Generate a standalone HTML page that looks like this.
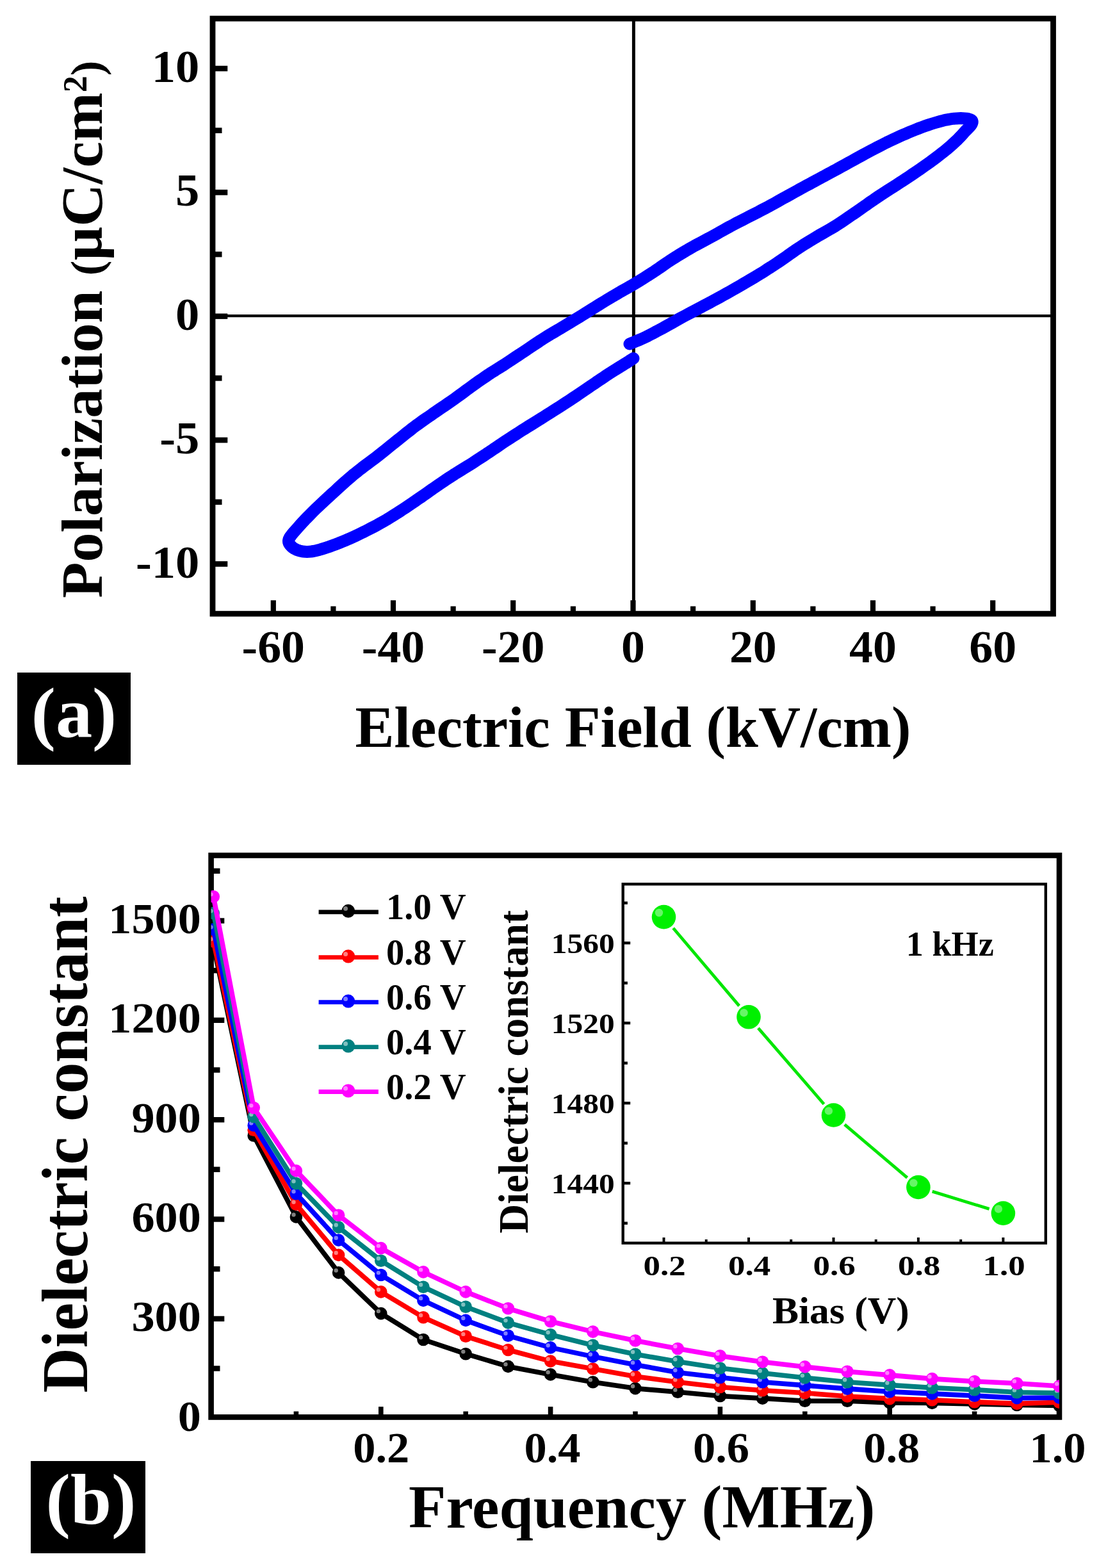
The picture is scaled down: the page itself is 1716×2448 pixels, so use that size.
<!DOCTYPE html>
<html><head><meta charset="utf-8"><title>Figure</title>
<style>
html,body{margin:0;padding:0;background:#fff;}
body{width:1716px;height:2448px;overflow:hidden;}
svg{display:block;}
text{font-family:'Liberation Serif', serif;font-weight:bold;}
</style></head>
<body>
<svg width="1716" height="2448" viewBox="0 0 1716 2448">
<rect width="1716" height="2448" fill="#fff"/>
<line x1="989.4" y1="29.0" x2="989.4" y2="958.2" stroke="#000" stroke-width="5.0" stroke-linecap="butt"/>
<line x1="332.0" y1="493.1" x2="1644.5" y2="493.1" stroke="#000" stroke-width="4.4" stroke-linecap="butt"/>
<path d="M983.0,537.0 L985.5,535.9 L989.0,534.5 L993.1,532.8 L997.7,530.9 L1002.3,528.9 L1006.8,526.9 L1011.1,524.7 L1015.6,522.4 L1020.3,520.0 L1025.0,517.4 L1029.8,514.9 L1034.6,512.3 L1039.4,509.6 L1044.4,506.9 L1049.4,504.1 L1054.4,501.2 L1059.4,498.4 L1064.4,495.7 L1069.4,493.0 L1074.3,490.4 L1079.3,487.8 L1084.3,485.1 L1089.3,482.5 L1094.2,479.9 L1099.2,477.2 L1104.1,474.6 L1109.1,472.0 L1114.0,469.3 L1119.0,466.6 L1124.1,463.8 L1129.2,461.0 L1134.4,458.1 L1139.6,455.2 L1144.8,452.3 L1150.1,449.2 L1155.4,446.2 L1160.8,443.0 L1166.4,439.8 L1171.9,436.5 L1177.5,433.2 L1183.0,429.9 L1188.3,426.7 L1193.5,423.4 L1198.6,420.1 L1203.7,416.9 L1208.7,413.6 L1213.6,410.4 L1218.4,407.1 L1223.1,403.9 L1227.7,400.7 L1232.1,397.5 L1236.6,394.4 L1241.1,391.2 L1245.7,388.1 L1250.3,385.1 L1255.0,382.1 L1259.8,379.1 L1264.6,376.2 L1269.4,373.2 L1274.2,370.3 L1279.1,367.4 L1284.1,364.6 L1289.1,361.8 L1294.1,358.9 L1299.1,356.0 L1304.1,353.0 L1309.1,349.8 L1314.1,346.5 L1319.1,343.1 L1324.1,339.7 L1329.0,336.3 L1333.9,333.0 L1338.8,329.6 L1343.6,326.2 L1348.5,322.8 L1353.3,319.4 L1358.0,316.0 L1362.8,312.8 L1367.4,309.6 L1372.0,306.5 L1376.6,303.5 L1381.2,300.5 L1385.8,297.5 L1390.5,294.5 L1395.3,291.4 L1400.0,288.4 L1404.8,285.3 L1409.6,282.2 L1414.5,279.0 L1419.3,275.8 L1424.2,272.5 L1429.2,269.1 L1434.3,265.7 L1439.2,262.2 L1444.1,258.8 L1448.8,255.5 L1453.4,252.2 L1457.9,248.8 L1462.4,245.5 L1466.6,242.3 L1470.7,239.1 L1474.5,236.1 L1478.1,233.2 L1481.5,230.3 L1484.6,227.6 L1487.6,224.9 L1490.4,222.3 L1493.1,219.8 L1495.7,217.3 L1498.0,214.9 L1500.2,212.6 L1502.3,210.3 L1504.3,208.1 L1506.2,205.9 L1508.3,203.8 L1510.4,201.6 L1512.5,199.5 L1514.4,197.5 L1515.9,195.7 L1517.0,194.0 L1517.7,192.5 L1518.1,191.1 L1518.2,189.9 L1517.9,188.8 L1517.2,187.8 L1516.0,187.0 L1514.3,186.3 L1512.1,185.7 L1509.5,185.2 L1506.6,184.9 L1503.4,184.7 L1500.2,184.6 L1496.9,184.7 L1493.4,184.9 L1489.7,185.2 L1485.8,185.7 L1481.7,186.3 L1477.5,187.1 L1473.2,188.1 L1468.6,189.3 L1463.8,190.6 L1459.0,192.0 L1454.1,193.5 L1449.2,195.1 L1444.3,196.8 L1439.3,198.6 L1434.3,200.5 L1429.3,202.5 L1424.3,204.5 L1419.3,206.6 L1414.4,208.7 L1409.4,210.8 L1404.4,213.0 L1399.4,215.3 L1394.5,217.6 L1389.5,220.0 L1384.5,222.4 L1379.6,224.9 L1374.6,227.4 L1369.6,230.0 L1364.6,232.6 L1359.7,235.2 L1354.6,237.9 L1349.5,240.6 L1344.5,243.4 L1339.4,246.2 L1334.5,248.9 L1329.8,251.5 L1325.3,253.9 L1320.9,256.3 L1316.7,258.7 L1312.6,260.9 L1308.6,263.1 L1304.8,265.2 L1301.1,267.2 L1297.8,269.0 L1294.6,270.7 L1291.4,272.4 L1288.0,274.3 L1284.4,276.2 L1280.6,278.3 L1276.6,280.4 L1272.5,282.6 L1268.2,284.9 L1263.8,287.3 L1259.3,289.7 L1254.6,292.3 L1249.7,294.9 L1244.7,297.7 L1239.6,300.5 L1234.5,303.3 L1229.5,306.1 L1224.5,308.8 L1219.6,311.6 L1214.6,314.4 L1209.6,317.2 L1204.6,319.9 L1199.7,322.6 L1194.7,325.2 L1189.7,327.8 L1184.8,330.4 L1179.8,332.9 L1174.8,335.5 L1169.8,338.0 L1164.8,340.6 L1159.8,343.2 L1154.8,345.7 L1149.8,348.3 L1144.8,351.0 L1139.8,353.6 L1134.7,356.4 L1129.7,359.2 L1124.6,362.0 L1119.5,364.9 L1114.5,367.7 L1109.4,370.5 L1104.4,373.2 L1099.4,375.9 L1094.3,378.6 L1089.3,381.2 L1084.3,383.9 L1079.3,386.8 L1074.3,389.6 L1069.4,392.5 L1064.4,395.5 L1059.4,398.5 L1054.5,401.6 L1049.5,404.8 L1044.5,408.0 L1039.5,411.4 L1034.5,414.9 L1029.5,418.4 L1024.5,421.7 L1019.7,425.0 L1014.9,428.1 L1010.2,431.1 L1005.6,434.0 L1001.0,436.8 L996.5,439.6 L992.0,442.3 L987.7,444.9 L983.5,447.3 L979.3,449.7 L975.2,452.0 L970.9,454.4 L966.6,456.9 L962.2,459.6 L957.6,462.2 L953.1,464.9 L948.4,467.7 L943.8,470.5 L939.0,473.4 L934.2,476.4 L929.2,479.5 L924.2,482.6 L919.2,485.8 L914.2,488.9 L909.2,492.0 L904.2,495.1 L899.2,498.1 L894.2,501.1 L889.3,504.1 L884.3,507.1 L879.3,510.1 L874.4,513.1 L869.4,516.0 L864.4,519.0 L859.4,521.9 L854.5,524.9 L849.5,528.0 L844.5,531.2 L839.6,534.5 L834.6,537.8 L829.6,541.1 L824.6,544.5 L819.7,547.8 L814.7,551.1 L809.6,554.5 L804.6,557.8 L799.6,561.2 L794.7,564.4 L789.8,567.6 L785.1,570.7 L780.4,573.6 L775.7,576.5 L771.2,579.4 L766.6,582.2 L762.2,585.1 L757.9,588.1 L753.7,591.0 L749.5,593.8 L745.3,596.8 L741.1,599.8 L736.8,602.9 L732.4,606.1 L727.8,609.4 L723.3,612.8 L718.6,616.2 L713.9,619.7 L709.2,623.1 L704.3,626.5 L699.4,629.9 L694.4,633.3 L689.4,636.7 L684.3,640.2 L679.3,643.6 L674.4,647.1 L669.4,650.5 L664.4,653.9 L659.4,657.4 L654.5,660.9 L649.5,664.5 L644.5,668.3 L639.6,672.2 L634.6,676.1 L629.6,680.1 L624.6,684.1 L619.7,688.0 L614.6,692.1 L609.5,696.2 L604.4,700.3 L599.4,704.4 L594.5,708.3 L589.8,712.0 L585.3,715.5 L581.0,718.7 L576.7,721.9 L572.7,724.9 L568.7,727.8 L564.9,730.8 L561.3,733.5 L558.1,736.1 L555.0,738.6 L551.8,741.1 L548.5,743.9 L544.9,747.0 L541.0,750.4 L536.9,754.0 L532.6,757.9 L528.2,761.9 L523.7,766.1 L519.0,770.3 L514.2,774.8 L509.0,779.6 L503.7,784.5 L498.5,789.4 L493.4,794.2 L488.7,798.8 L484.3,803.2 L480.1,807.5 L476.0,811.7 L472.2,815.8 L468.6,819.7 L465.4,823.4 L462.2,827.0 L459.2,830.3 L456.5,833.6 L454.1,836.6 L452.2,839.4 L451.0,842.0 L450.5,844.3 L450.6,846.4 L451.3,848.2 L452.3,849.9 L453.6,851.5 L455.0,853.0 L456.6,854.5 L458.5,855.9 L460.6,857.1 L463.0,858.3 L465.4,859.2 L468.0,860.0 L470.6,860.6 L473.4,861.0 L476.3,861.3 L479.4,861.4 L482.6,861.3 L486.0,861.0 L489.5,860.5 L493.2,859.7 L497.0,858.8 L501.0,857.7 L505.2,856.4 L509.5,855.0 L514.1,853.5 L519.0,851.7 L524.0,849.8 L529.1,847.9 L534.3,845.8 L539.3,843.7 L544.3,841.6 L549.3,839.3 L554.2,837.1 L559.2,834.7 L564.2,832.3 L569.2,829.9 L574.1,827.4 L579.1,824.8 L584.1,822.2 L589.1,819.6 L594.0,816.8 L599.0,814.0 L604.0,811.1 L609.0,808.0 L614.0,804.9 L619.0,801.7 L623.9,798.6 L628.8,795.4 L633.7,792.2 L638.6,788.9 L643.4,785.7 L648.2,782.4 L652.9,779.1 L657.5,776.0 L662.1,772.8 L666.5,769.7 L670.9,766.6 L675.2,763.5 L679.6,760.5 L683.9,757.5 L688.3,754.5 L692.6,751.6 L696.9,748.7 L701.3,745.8 L705.7,743.0 L710.2,740.0 L714.9,737.1 L719.7,734.1 L724.5,731.2 L729.4,728.2 L734.2,725.2 L739.0,722.2 L743.6,719.1 L748.3,716.1 L753.0,713.0 L757.6,710.0 L762.1,706.9 L766.6,704.0 L770.9,701.0 L775.2,698.2 L779.3,695.4 L783.5,692.5 L787.7,689.7 L792.0,686.8 L796.5,683.9 L801.0,681.0 L805.6,678.1 L810.2,675.1 L814.9,672.1 L819.7,669.1 L824.5,666.0 L829.5,663.0 L834.5,659.9 L839.5,656.7 L844.5,653.6 L849.5,650.5 L854.5,647.3 L859.4,644.2 L864.4,641.0 L869.4,637.9 L874.4,634.7 L879.3,631.5 L884.3,628.2 L889.4,624.9 L894.5,621.5 L899.5,618.2 L904.4,614.9 L909.2,611.7 L913.8,608.5 L918.4,605.4 L922.9,602.3 L927.3,599.4 L931.4,596.5 L935.3,593.9 L938.9,591.5 L942.2,589.3 L945.3,587.2 L948.3,585.2 L951.1,583.3 L954.0,581.5 L956.7,579.8 L959.3,578.1 L961.8,576.6 L964.2,575.1 L966.5,573.7 L968.8,572.2 L971.1,570.8 L973.3,569.5 L975.5,568.1 L977.6,566.8 L979.5,565.6 L981.3,564.5 L982.9,563.4 L984.5,562.4 L985.9,561.5 L987.2,560.7 L988.2,560.0 L989.0,559.5" fill="none" stroke="#0000FF" stroke-width="19" stroke-linejoin="round" stroke-linecap="round"/>
<rect x="332.0" y="29.0" width="1312.5" height="929.2" fill="none" stroke="#000" stroke-width="8.8"/>
<line x1="332.0" y1="107.0" x2="355.3" y2="107.0" stroke="#000" stroke-width="8.6" stroke-linecap="butt"/>
<line x1="332.0" y1="300.4" x2="355.3" y2="300.4" stroke="#000" stroke-width="8.6" stroke-linecap="butt"/>
<line x1="332.0" y1="493.8" x2="355.3" y2="493.8" stroke="#000" stroke-width="8.6" stroke-linecap="butt"/>
<line x1="332.0" y1="687.1" x2="355.3" y2="687.1" stroke="#000" stroke-width="8.6" stroke-linecap="butt"/>
<line x1="332.0" y1="880.5" x2="355.3" y2="880.5" stroke="#000" stroke-width="8.6" stroke-linecap="butt"/>
<line x1="332.0" y1="203.7" x2="346.5" y2="203.7" stroke="#000" stroke-width="8.6" stroke-linecap="butt"/>
<line x1="332.0" y1="397.1" x2="346.5" y2="397.1" stroke="#000" stroke-width="8.6" stroke-linecap="butt"/>
<line x1="332.0" y1="590.4" x2="346.5" y2="590.4" stroke="#000" stroke-width="8.6" stroke-linecap="butt"/>
<line x1="332.0" y1="783.8" x2="346.5" y2="783.8" stroke="#000" stroke-width="8.6" stroke-linecap="butt"/>
<line x1="426.8" y1="958.2" x2="426.8" y2="937.2" stroke="#000" stroke-width="8.2" stroke-linecap="butt"/>
<line x1="614.0" y1="958.2" x2="614.0" y2="937.2" stroke="#000" stroke-width="8.2" stroke-linecap="butt"/>
<line x1="801.2" y1="958.2" x2="801.2" y2="937.2" stroke="#000" stroke-width="8.2" stroke-linecap="butt"/>
<line x1="988.5" y1="958.2" x2="988.5" y2="937.2" stroke="#000" stroke-width="8.2" stroke-linecap="butt"/>
<line x1="1175.8" y1="958.2" x2="1175.8" y2="937.2" stroke="#000" stroke-width="8.2" stroke-linecap="butt"/>
<line x1="1363.0" y1="958.2" x2="1363.0" y2="937.2" stroke="#000" stroke-width="8.2" stroke-linecap="butt"/>
<line x1="1550.2" y1="958.2" x2="1550.2" y2="937.2" stroke="#000" stroke-width="8.2" stroke-linecap="butt"/>
<line x1="520.4" y1="958.2" x2="520.4" y2="946.5" stroke="#000" stroke-width="8.2" stroke-linecap="butt"/>
<line x1="707.6" y1="958.2" x2="707.6" y2="946.5" stroke="#000" stroke-width="8.2" stroke-linecap="butt"/>
<line x1="894.9" y1="958.2" x2="894.9" y2="946.5" stroke="#000" stroke-width="8.2" stroke-linecap="butt"/>
<line x1="1082.1" y1="958.2" x2="1082.1" y2="946.5" stroke="#000" stroke-width="8.2" stroke-linecap="butt"/>
<line x1="1269.4" y1="958.2" x2="1269.4" y2="946.5" stroke="#000" stroke-width="8.2" stroke-linecap="butt"/>
<line x1="1456.6" y1="958.2" x2="1456.6" y2="946.5" stroke="#000" stroke-width="8.2" stroke-linecap="butt"/>
<text transform="translate(311.3,128.0) scale(1.050,1)" font-size="71" text-anchor="end" fill="#000" >10</text>
<text transform="translate(311.3,321.4) scale(1.050,1)" font-size="71" text-anchor="end" fill="#000" >5</text>
<text transform="translate(311.3,514.8) scale(1.050,1)" font-size="71" text-anchor="end" fill="#000" >0</text>
<text transform="translate(311.3,708.1) scale(1.050,1)" font-size="71" text-anchor="end" fill="#000" >-5</text>
<text transform="translate(311.3,901.5) scale(1.050,1)" font-size="71" text-anchor="end" fill="#000" >-10</text>
<text transform="translate(426.8,1033.5) scale(1.040,1)" font-size="71" text-anchor="middle" fill="#000" >-60</text>
<text transform="translate(614.0,1033.5) scale(1.040,1)" font-size="71" text-anchor="middle" fill="#000" >-40</text>
<text transform="translate(801.2,1033.5) scale(1.040,1)" font-size="71" text-anchor="middle" fill="#000" >-20</text>
<text transform="translate(988.5,1033.5) scale(1.040,1)" font-size="71" text-anchor="middle" fill="#000" >0</text>
<text transform="translate(1175.8,1033.5) scale(1.040,1)" font-size="71" text-anchor="middle" fill="#000" >20</text>
<text transform="translate(1363.0,1033.5) scale(1.040,1)" font-size="71" text-anchor="middle" fill="#000" >40</text>
<text transform="translate(1550.2,1033.5) scale(1.040,1)" font-size="71" text-anchor="middle" fill="#000" >60</text>
<text transform="translate(554.5,1165.8)" font-size="91.4" text-anchor="start" fill="#000" >Electric Field (kV/cm)</text>
<text transform="translate(159.0,933.7) rotate(-90)" font-size="92" text-anchor="start" fill="#000" >Polarization <tspan font-size="70.6">(</tspan>µC/cm<tspan font-size="52" dy="-24">2</tspan><tspan font-size="70.6" dy="24">)</tspan></text>
<rect x="27" y="1050" width="177" height="144" fill="#000"/>
<text transform="translate(115.5,1150.0) scale(1.040,1)" font-size="110" text-anchor="middle" fill="#fff" >(a)</text>
<rect x="329.6" y="1335.5" width="1324.4" height="877.0" fill="none" stroke="#000" stroke-width="8.6"/>
<line x1="329.6" y1="2058.9" x2="350.3" y2="2058.9" stroke="#000" stroke-width="8.4" stroke-linecap="butt"/>
<line x1="329.6" y1="1903.5" x2="350.3" y2="1903.5" stroke="#000" stroke-width="8.4" stroke-linecap="butt"/>
<line x1="329.6" y1="1748.2" x2="350.3" y2="1748.2" stroke="#000" stroke-width="8.4" stroke-linecap="butt"/>
<line x1="329.6" y1="1592.8" x2="350.3" y2="1592.8" stroke="#000" stroke-width="8.4" stroke-linecap="butt"/>
<line x1="329.6" y1="1437.5" x2="350.3" y2="1437.5" stroke="#000" stroke-width="8.4" stroke-linecap="butt"/>
<line x1="329.6" y1="2136.5" x2="343.5" y2="2136.5" stroke="#000" stroke-width="8.4" stroke-linecap="butt"/>
<line x1="329.6" y1="1981.2" x2="343.5" y2="1981.2" stroke="#000" stroke-width="8.4" stroke-linecap="butt"/>
<line x1="329.6" y1="1825.8" x2="343.5" y2="1825.8" stroke="#000" stroke-width="8.4" stroke-linecap="butt"/>
<line x1="329.6" y1="1670.5" x2="343.5" y2="1670.5" stroke="#000" stroke-width="8.4" stroke-linecap="butt"/>
<line x1="329.6" y1="1515.2" x2="343.5" y2="1515.2" stroke="#000" stroke-width="8.4" stroke-linecap="butt"/>
<line x1="329.6" y1="1359.8" x2="343.5" y2="1359.8" stroke="#000" stroke-width="8.4" stroke-linecap="butt"/>
<line x1="594.8" y1="2212.5" x2="594.8" y2="2196.2" stroke="#000" stroke-width="7.6" stroke-linecap="butt"/>
<line x1="859.6" y1="2212.5" x2="859.6" y2="2196.2" stroke="#000" stroke-width="7.6" stroke-linecap="butt"/>
<line x1="1124.4" y1="2212.5" x2="1124.4" y2="2196.2" stroke="#000" stroke-width="7.6" stroke-linecap="butt"/>
<line x1="1389.2" y1="2212.5" x2="1389.2" y2="2196.2" stroke="#000" stroke-width="7.6" stroke-linecap="butt"/>
<line x1="462.4" y1="2212.5" x2="462.4" y2="2203.5" stroke="#000" stroke-width="7.6" stroke-linecap="butt"/>
<line x1="727.2" y1="2212.5" x2="727.2" y2="2203.5" stroke="#000" stroke-width="7.6" stroke-linecap="butt"/>
<line x1="992.0" y1="2212.5" x2="992.0" y2="2203.5" stroke="#000" stroke-width="7.6" stroke-linecap="butt"/>
<line x1="1256.8" y1="2212.5" x2="1256.8" y2="2203.5" stroke="#000" stroke-width="7.6" stroke-linecap="butt"/>
<line x1="1521.6" y1="2212.5" x2="1521.6" y2="2203.5" stroke="#000" stroke-width="7.6" stroke-linecap="butt"/>
<clipPath id="cb"><rect x="329.6" y="1335.5" width="1324.4" height="877.0"/></clipPath>
<g clip-path="url(#cb)">
<path d="M333.3,1476.3 L396.2,1773.0 L462.4,1899.9 L528.6,1986.9 L594.8,2050.6 L661.0,2091.5 L727.2,2113.7 L793.4,2133.4 L859.6,2145.9 L925.8,2157.8 L992.0,2167.6 L1058.2,2173.3 L1124.4,2179.5 L1190.6,2183.1 L1256.8,2187.3 L1323.0,2187.3 L1389.2,2189.9 L1455.4,2190.4 L1521.6,2191.9 L1587.8,2193.5 L1654.0,2194.5" fill="none" stroke="#000000" stroke-width="7.6" stroke-linejoin="round"/>
<circle cx="333.3" cy="1476.3" r="9.8" fill="#000000"/>
<circle cx="329.4" cy="1472.9" r="3.2" fill="#fff" fill-opacity="0.5"/>
<circle cx="396.2" cy="1773.0" r="9.8" fill="#000000"/>
<circle cx="392.3" cy="1769.6" r="3.2" fill="#fff" fill-opacity="0.5"/>
<circle cx="462.4" cy="1899.9" r="9.8" fill="#000000"/>
<circle cx="458.5" cy="1896.5" r="3.2" fill="#fff" fill-opacity="0.5"/>
<circle cx="528.6" cy="1986.9" r="9.8" fill="#000000"/>
<circle cx="524.7" cy="1983.5" r="3.2" fill="#fff" fill-opacity="0.5"/>
<circle cx="594.8" cy="2050.6" r="9.8" fill="#000000"/>
<circle cx="590.9" cy="2047.1" r="3.2" fill="#fff" fill-opacity="0.5"/>
<circle cx="661.0" cy="2091.5" r="9.8" fill="#000000"/>
<circle cx="657.1" cy="2088.1" r="3.2" fill="#fff" fill-opacity="0.5"/>
<circle cx="727.2" cy="2113.7" r="9.8" fill="#000000"/>
<circle cx="723.3" cy="2110.3" r="3.2" fill="#fff" fill-opacity="0.5"/>
<circle cx="793.4" cy="2133.4" r="9.8" fill="#000000"/>
<circle cx="789.5" cy="2130.0" r="3.2" fill="#fff" fill-opacity="0.5"/>
<circle cx="859.6" cy="2145.9" r="9.8" fill="#000000"/>
<circle cx="855.7" cy="2142.4" r="3.2" fill="#fff" fill-opacity="0.5"/>
<circle cx="925.8" cy="2157.8" r="9.8" fill="#000000"/>
<circle cx="921.9" cy="2154.3" r="3.2" fill="#fff" fill-opacity="0.5"/>
<circle cx="992.0" cy="2167.6" r="9.8" fill="#000000"/>
<circle cx="988.1" cy="2164.2" r="3.2" fill="#fff" fill-opacity="0.5"/>
<circle cx="1058.2" cy="2173.3" r="9.8" fill="#000000"/>
<circle cx="1054.3" cy="2169.9" r="3.2" fill="#fff" fill-opacity="0.5"/>
<circle cx="1124.4" cy="2179.5" r="9.8" fill="#000000"/>
<circle cx="1120.5" cy="2176.1" r="3.2" fill="#fff" fill-opacity="0.5"/>
<circle cx="1190.6" cy="2183.1" r="9.8" fill="#000000"/>
<circle cx="1186.7" cy="2179.7" r="3.2" fill="#fff" fill-opacity="0.5"/>
<circle cx="1256.8" cy="2187.3" r="9.8" fill="#000000"/>
<circle cx="1252.9" cy="2183.8" r="3.2" fill="#fff" fill-opacity="0.5"/>
<circle cx="1323.0" cy="2187.3" r="9.8" fill="#000000"/>
<circle cx="1319.1" cy="2183.8" r="3.2" fill="#fff" fill-opacity="0.5"/>
<circle cx="1389.2" cy="2189.9" r="9.8" fill="#000000"/>
<circle cx="1385.3" cy="2186.4" r="3.2" fill="#fff" fill-opacity="0.5"/>
<circle cx="1455.4" cy="2190.4" r="9.8" fill="#000000"/>
<circle cx="1451.5" cy="2187.0" r="3.2" fill="#fff" fill-opacity="0.5"/>
<circle cx="1521.6" cy="2191.9" r="9.8" fill="#000000"/>
<circle cx="1517.7" cy="2188.5" r="3.2" fill="#fff" fill-opacity="0.5"/>
<circle cx="1587.8" cy="2193.5" r="9.8" fill="#000000"/>
<circle cx="1583.9" cy="2190.1" r="3.2" fill="#fff" fill-opacity="0.5"/>
<circle cx="1654.0" cy="2194.5" r="9.8" fill="#000000"/>
<circle cx="1650.1" cy="2191.1" r="3.2" fill="#fff" fill-opacity="0.5"/>
<path d="M333.3,1469.6 L396.2,1764.2 L462.4,1880.2 L528.6,1959.4 L594.8,2016.9 L661.0,2056.8 L727.2,2086.3 L793.4,2107.5 L859.6,2125.1 L925.8,2137.0 L992.0,2149.0 L1058.2,2157.8 L1124.4,2165.5 L1190.6,2170.7 L1256.8,2174.8 L1323.0,2180.0 L1389.2,2183.6 L1455.4,2185.7 L1521.6,2188.8 L1587.8,2191.4 L1654.0,2189.3" fill="none" stroke="#FF0000" stroke-width="7.6" stroke-linejoin="round"/>
<circle cx="333.3" cy="1469.6" r="9.8" fill="#FF0000"/>
<circle cx="329.4" cy="1466.2" r="3.2" fill="#fff" fill-opacity="0.5"/>
<circle cx="396.2" cy="1764.2" r="9.8" fill="#FF0000"/>
<circle cx="392.3" cy="1760.8" r="3.2" fill="#fff" fill-opacity="0.5"/>
<circle cx="462.4" cy="1880.2" r="9.8" fill="#FF0000"/>
<circle cx="458.5" cy="1876.8" r="3.2" fill="#fff" fill-opacity="0.5"/>
<circle cx="528.6" cy="1959.4" r="9.8" fill="#FF0000"/>
<circle cx="524.7" cy="1956.0" r="3.2" fill="#fff" fill-opacity="0.5"/>
<circle cx="594.8" cy="2016.9" r="9.8" fill="#FF0000"/>
<circle cx="590.9" cy="2013.5" r="3.2" fill="#fff" fill-opacity="0.5"/>
<circle cx="661.0" cy="2056.8" r="9.8" fill="#FF0000"/>
<circle cx="657.1" cy="2053.4" r="3.2" fill="#fff" fill-opacity="0.5"/>
<circle cx="727.2" cy="2086.3" r="9.8" fill="#FF0000"/>
<circle cx="723.3" cy="2082.9" r="3.2" fill="#fff" fill-opacity="0.5"/>
<circle cx="793.4" cy="2107.5" r="9.8" fill="#FF0000"/>
<circle cx="789.5" cy="2104.1" r="3.2" fill="#fff" fill-opacity="0.5"/>
<circle cx="859.6" cy="2125.1" r="9.8" fill="#FF0000"/>
<circle cx="855.7" cy="2121.7" r="3.2" fill="#fff" fill-opacity="0.5"/>
<circle cx="925.8" cy="2137.0" r="9.8" fill="#FF0000"/>
<circle cx="921.9" cy="2133.6" r="3.2" fill="#fff" fill-opacity="0.5"/>
<circle cx="992.0" cy="2149.0" r="9.8" fill="#FF0000"/>
<circle cx="988.1" cy="2145.5" r="3.2" fill="#fff" fill-opacity="0.5"/>
<circle cx="1058.2" cy="2157.8" r="9.8" fill="#FF0000"/>
<circle cx="1054.3" cy="2154.3" r="3.2" fill="#fff" fill-opacity="0.5"/>
<circle cx="1124.4" cy="2165.5" r="9.8" fill="#FF0000"/>
<circle cx="1120.5" cy="2162.1" r="3.2" fill="#fff" fill-opacity="0.5"/>
<circle cx="1190.6" cy="2170.7" r="9.8" fill="#FF0000"/>
<circle cx="1186.7" cy="2167.3" r="3.2" fill="#fff" fill-opacity="0.5"/>
<circle cx="1256.8" cy="2174.8" r="9.8" fill="#FF0000"/>
<circle cx="1252.9" cy="2171.4" r="3.2" fill="#fff" fill-opacity="0.5"/>
<circle cx="1323.0" cy="2180.0" r="9.8" fill="#FF0000"/>
<circle cx="1319.1" cy="2176.6" r="3.2" fill="#fff" fill-opacity="0.5"/>
<circle cx="1389.2" cy="2183.6" r="9.8" fill="#FF0000"/>
<circle cx="1385.3" cy="2180.2" r="3.2" fill="#fff" fill-opacity="0.5"/>
<circle cx="1455.4" cy="2185.7" r="9.8" fill="#FF0000"/>
<circle cx="1451.5" cy="2182.3" r="3.2" fill="#fff" fill-opacity="0.5"/>
<circle cx="1521.6" cy="2188.8" r="9.8" fill="#FF0000"/>
<circle cx="1517.7" cy="2185.4" r="3.2" fill="#fff" fill-opacity="0.5"/>
<circle cx="1587.8" cy="2191.4" r="9.8" fill="#FF0000"/>
<circle cx="1583.9" cy="2188.0" r="3.2" fill="#fff" fill-opacity="0.5"/>
<circle cx="1654.0" cy="2189.3" r="9.8" fill="#FF0000"/>
<circle cx="1650.1" cy="2185.9" r="3.2" fill="#fff" fill-opacity="0.5"/>
<path d="M333.3,1451.0 L396.2,1757.0 L462.4,1863.6 L528.6,1936.1 L594.8,1990.5 L661.0,2030.4 L727.2,2061.4 L793.4,2085.3 L859.6,2103.9 L925.8,2117.9 L992.0,2130.8 L1058.2,2142.7 L1124.4,2150.5 L1190.6,2157.8 L1256.8,2162.9 L1323.0,2168.1 L1389.2,2172.8 L1455.4,2175.9 L1521.6,2179.0 L1587.8,2182.6 L1654.0,2182.1" fill="none" stroke="#0000FF" stroke-width="7.6" stroke-linejoin="round"/>
<circle cx="333.3" cy="1451.0" r="9.8" fill="#0000FF"/>
<circle cx="329.4" cy="1447.5" r="3.2" fill="#fff" fill-opacity="0.5"/>
<circle cx="396.2" cy="1757.0" r="9.8" fill="#0000FF"/>
<circle cx="392.3" cy="1753.6" r="3.2" fill="#fff" fill-opacity="0.5"/>
<circle cx="462.4" cy="1863.6" r="9.8" fill="#0000FF"/>
<circle cx="458.5" cy="1860.2" r="3.2" fill="#fff" fill-opacity="0.5"/>
<circle cx="528.6" cy="1936.1" r="9.8" fill="#0000FF"/>
<circle cx="524.7" cy="1932.7" r="3.2" fill="#fff" fill-opacity="0.5"/>
<circle cx="594.8" cy="1990.5" r="9.8" fill="#0000FF"/>
<circle cx="590.9" cy="1987.1" r="3.2" fill="#fff" fill-opacity="0.5"/>
<circle cx="661.0" cy="2030.4" r="9.8" fill="#0000FF"/>
<circle cx="657.1" cy="2027.0" r="3.2" fill="#fff" fill-opacity="0.5"/>
<circle cx="727.2" cy="2061.4" r="9.8" fill="#0000FF"/>
<circle cx="723.3" cy="2058.0" r="3.2" fill="#fff" fill-opacity="0.5"/>
<circle cx="793.4" cy="2085.3" r="9.8" fill="#0000FF"/>
<circle cx="789.5" cy="2081.8" r="3.2" fill="#fff" fill-opacity="0.5"/>
<circle cx="859.6" cy="2103.9" r="9.8" fill="#0000FF"/>
<circle cx="855.7" cy="2100.5" r="3.2" fill="#fff" fill-opacity="0.5"/>
<circle cx="925.8" cy="2117.9" r="9.8" fill="#0000FF"/>
<circle cx="921.9" cy="2114.5" r="3.2" fill="#fff" fill-opacity="0.5"/>
<circle cx="992.0" cy="2130.8" r="9.8" fill="#0000FF"/>
<circle cx="988.1" cy="2127.4" r="3.2" fill="#fff" fill-opacity="0.5"/>
<circle cx="1058.2" cy="2142.7" r="9.8" fill="#0000FF"/>
<circle cx="1054.3" cy="2139.3" r="3.2" fill="#fff" fill-opacity="0.5"/>
<circle cx="1124.4" cy="2150.5" r="9.8" fill="#0000FF"/>
<circle cx="1120.5" cy="2147.1" r="3.2" fill="#fff" fill-opacity="0.5"/>
<circle cx="1190.6" cy="2157.8" r="9.8" fill="#0000FF"/>
<circle cx="1186.7" cy="2154.3" r="3.2" fill="#fff" fill-opacity="0.5"/>
<circle cx="1256.8" cy="2162.9" r="9.8" fill="#0000FF"/>
<circle cx="1252.9" cy="2159.5" r="3.2" fill="#fff" fill-opacity="0.5"/>
<circle cx="1323.0" cy="2168.1" r="9.8" fill="#0000FF"/>
<circle cx="1319.1" cy="2164.7" r="3.2" fill="#fff" fill-opacity="0.5"/>
<circle cx="1389.2" cy="2172.8" r="9.8" fill="#0000FF"/>
<circle cx="1385.3" cy="2169.3" r="3.2" fill="#fff" fill-opacity="0.5"/>
<circle cx="1455.4" cy="2175.9" r="9.8" fill="#0000FF"/>
<circle cx="1451.5" cy="2172.5" r="3.2" fill="#fff" fill-opacity="0.5"/>
<circle cx="1521.6" cy="2179.0" r="9.8" fill="#0000FF"/>
<circle cx="1517.7" cy="2175.6" r="3.2" fill="#fff" fill-opacity="0.5"/>
<circle cx="1587.8" cy="2182.6" r="9.8" fill="#0000FF"/>
<circle cx="1583.9" cy="2179.2" r="3.2" fill="#fff" fill-opacity="0.5"/>
<circle cx="1654.0" cy="2182.1" r="9.8" fill="#0000FF"/>
<circle cx="1650.1" cy="2178.7" r="3.2" fill="#fff" fill-opacity="0.5"/>
<path d="M333.3,1425.6 L396.2,1743.5 L462.4,1847.6 L528.6,1915.9 L594.8,1968.2 L661.0,2009.2 L727.2,2040.2 L793.4,2065.1 L859.6,2083.7 L925.8,2100.3 L992.0,2114.3 L1058.2,2125.7 L1124.4,2136.0 L1190.6,2143.8 L1256.8,2151.0 L1323.0,2157.8 L1389.2,2162.4 L1455.4,2166.6 L1521.6,2169.7 L1587.8,2173.8 L1654.0,2174.8" fill="none" stroke="#008080" stroke-width="7.6" stroke-linejoin="round"/>
<circle cx="333.3" cy="1425.6" r="9.8" fill="#008080"/>
<circle cx="329.4" cy="1422.2" r="3.2" fill="#fff" fill-opacity="0.5"/>
<circle cx="396.2" cy="1743.5" r="9.8" fill="#008080"/>
<circle cx="392.3" cy="1740.1" r="3.2" fill="#fff" fill-opacity="0.5"/>
<circle cx="462.4" cy="1847.6" r="9.8" fill="#008080"/>
<circle cx="458.5" cy="1844.2" r="3.2" fill="#fff" fill-opacity="0.5"/>
<circle cx="528.6" cy="1915.9" r="9.8" fill="#008080"/>
<circle cx="524.7" cy="1912.5" r="3.2" fill="#fff" fill-opacity="0.5"/>
<circle cx="594.8" cy="1968.2" r="9.8" fill="#008080"/>
<circle cx="590.9" cy="1964.8" r="3.2" fill="#fff" fill-opacity="0.5"/>
<circle cx="661.0" cy="2009.2" r="9.8" fill="#008080"/>
<circle cx="657.1" cy="2005.7" r="3.2" fill="#fff" fill-opacity="0.5"/>
<circle cx="727.2" cy="2040.2" r="9.8" fill="#008080"/>
<circle cx="723.3" cy="2036.8" r="3.2" fill="#fff" fill-opacity="0.5"/>
<circle cx="793.4" cy="2065.1" r="9.8" fill="#008080"/>
<circle cx="789.5" cy="2061.6" r="3.2" fill="#fff" fill-opacity="0.5"/>
<circle cx="859.6" cy="2083.7" r="9.8" fill="#008080"/>
<circle cx="855.7" cy="2080.3" r="3.2" fill="#fff" fill-opacity="0.5"/>
<circle cx="925.8" cy="2100.3" r="9.8" fill="#008080"/>
<circle cx="921.9" cy="2096.9" r="3.2" fill="#fff" fill-opacity="0.5"/>
<circle cx="992.0" cy="2114.3" r="9.8" fill="#008080"/>
<circle cx="988.1" cy="2110.8" r="3.2" fill="#fff" fill-opacity="0.5"/>
<circle cx="1058.2" cy="2125.7" r="9.8" fill="#008080"/>
<circle cx="1054.3" cy="2122.2" r="3.2" fill="#fff" fill-opacity="0.5"/>
<circle cx="1124.4" cy="2136.0" r="9.8" fill="#008080"/>
<circle cx="1120.5" cy="2132.6" r="3.2" fill="#fff" fill-opacity="0.5"/>
<circle cx="1190.6" cy="2143.8" r="9.8" fill="#008080"/>
<circle cx="1186.7" cy="2140.3" r="3.2" fill="#fff" fill-opacity="0.5"/>
<circle cx="1256.8" cy="2151.0" r="9.8" fill="#008080"/>
<circle cx="1252.9" cy="2147.6" r="3.2" fill="#fff" fill-opacity="0.5"/>
<circle cx="1323.0" cy="2157.8" r="9.8" fill="#008080"/>
<circle cx="1319.1" cy="2154.3" r="3.2" fill="#fff" fill-opacity="0.5"/>
<circle cx="1389.2" cy="2162.4" r="9.8" fill="#008080"/>
<circle cx="1385.3" cy="2159.0" r="3.2" fill="#fff" fill-opacity="0.5"/>
<circle cx="1455.4" cy="2166.6" r="9.8" fill="#008080"/>
<circle cx="1451.5" cy="2163.1" r="3.2" fill="#fff" fill-opacity="0.5"/>
<circle cx="1521.6" cy="2169.7" r="9.8" fill="#008080"/>
<circle cx="1517.7" cy="2166.2" r="3.2" fill="#fff" fill-opacity="0.5"/>
<circle cx="1587.8" cy="2173.8" r="9.8" fill="#008080"/>
<circle cx="1583.9" cy="2170.4" r="3.2" fill="#fff" fill-opacity="0.5"/>
<circle cx="1654.0" cy="2174.8" r="9.8" fill="#008080"/>
<circle cx="1650.1" cy="2171.4" r="3.2" fill="#fff" fill-opacity="0.5"/>
<path d="M333.3,1399.7 L396.2,1729.5 L462.4,1827.9 L528.6,1897.3 L594.8,1948.6 L661.0,1985.9 L727.2,2016.9 L793.4,2042.8 L859.6,2063.0 L925.8,2079.1 L992.0,2093.0 L1058.2,2105.5 L1124.4,2116.9 L1190.6,2126.2 L1256.8,2133.9 L1323.0,2141.2 L1389.2,2146.9 L1455.4,2152.6 L1521.6,2156.7 L1587.8,2159.8 L1654.0,2164.0" fill="none" stroke="#FF00FF" stroke-width="7.6" stroke-linejoin="round"/>
<circle cx="333.3" cy="1399.7" r="9.8" fill="#FF00FF"/>
<circle cx="329.4" cy="1396.3" r="3.2" fill="#fff" fill-opacity="0.5"/>
<circle cx="396.2" cy="1729.5" r="9.8" fill="#FF00FF"/>
<circle cx="392.3" cy="1726.1" r="3.2" fill="#fff" fill-opacity="0.5"/>
<circle cx="462.4" cy="1827.9" r="9.8" fill="#FF00FF"/>
<circle cx="458.5" cy="1824.5" r="3.2" fill="#fff" fill-opacity="0.5"/>
<circle cx="528.6" cy="1897.3" r="9.8" fill="#FF00FF"/>
<circle cx="524.7" cy="1893.9" r="3.2" fill="#fff" fill-opacity="0.5"/>
<circle cx="594.8" cy="1948.6" r="9.8" fill="#FF00FF"/>
<circle cx="590.9" cy="1945.1" r="3.2" fill="#fff" fill-opacity="0.5"/>
<circle cx="661.0" cy="1985.9" r="9.8" fill="#FF00FF"/>
<circle cx="657.1" cy="1982.4" r="3.2" fill="#fff" fill-opacity="0.5"/>
<circle cx="727.2" cy="2016.9" r="9.8" fill="#FF00FF"/>
<circle cx="723.3" cy="2013.5" r="3.2" fill="#fff" fill-opacity="0.5"/>
<circle cx="793.4" cy="2042.8" r="9.8" fill="#FF00FF"/>
<circle cx="789.5" cy="2039.4" r="3.2" fill="#fff" fill-opacity="0.5"/>
<circle cx="859.6" cy="2063.0" r="9.8" fill="#FF00FF"/>
<circle cx="855.7" cy="2059.6" r="3.2" fill="#fff" fill-opacity="0.5"/>
<circle cx="925.8" cy="2079.1" r="9.8" fill="#FF00FF"/>
<circle cx="921.9" cy="2075.6" r="3.2" fill="#fff" fill-opacity="0.5"/>
<circle cx="992.0" cy="2093.0" r="9.8" fill="#FF00FF"/>
<circle cx="988.1" cy="2089.6" r="3.2" fill="#fff" fill-opacity="0.5"/>
<circle cx="1058.2" cy="2105.5" r="9.8" fill="#FF00FF"/>
<circle cx="1054.3" cy="2102.0" r="3.2" fill="#fff" fill-opacity="0.5"/>
<circle cx="1124.4" cy="2116.9" r="9.8" fill="#FF00FF"/>
<circle cx="1120.5" cy="2113.4" r="3.2" fill="#fff" fill-opacity="0.5"/>
<circle cx="1190.6" cy="2126.2" r="9.8" fill="#FF00FF"/>
<circle cx="1186.7" cy="2122.7" r="3.2" fill="#fff" fill-opacity="0.5"/>
<circle cx="1256.8" cy="2133.9" r="9.8" fill="#FF00FF"/>
<circle cx="1252.9" cy="2130.5" r="3.2" fill="#fff" fill-opacity="0.5"/>
<circle cx="1323.0" cy="2141.2" r="9.8" fill="#FF00FF"/>
<circle cx="1319.1" cy="2137.8" r="3.2" fill="#fff" fill-opacity="0.5"/>
<circle cx="1389.2" cy="2146.9" r="9.8" fill="#FF00FF"/>
<circle cx="1385.3" cy="2143.5" r="3.2" fill="#fff" fill-opacity="0.5"/>
<circle cx="1455.4" cy="2152.6" r="9.8" fill="#FF00FF"/>
<circle cx="1451.5" cy="2149.2" r="3.2" fill="#fff" fill-opacity="0.5"/>
<circle cx="1521.6" cy="2156.7" r="9.8" fill="#FF00FF"/>
<circle cx="1517.7" cy="2153.3" r="3.2" fill="#fff" fill-opacity="0.5"/>
<circle cx="1587.8" cy="2159.8" r="9.8" fill="#FF00FF"/>
<circle cx="1583.9" cy="2156.4" r="3.2" fill="#fff" fill-opacity="0.5"/>
<circle cx="1654.0" cy="2164.0" r="9.8" fill="#FF00FF"/>
<circle cx="1650.1" cy="2160.5" r="3.2" fill="#fff" fill-opacity="0.5"/>
</g>
<text transform="translate(313.8,2233.7) scale(1.055,1)" font-size="68.5" text-anchor="end" fill="#000" >0</text>
<text transform="translate(313.8,2078.4) scale(1.055,1)" font-size="68.5" text-anchor="end" fill="#000" >300</text>
<text transform="translate(313.8,1923.0) scale(1.055,1)" font-size="68.5" text-anchor="end" fill="#000" >600</text>
<text transform="translate(313.8,1767.7) scale(1.055,1)" font-size="68.5" text-anchor="end" fill="#000" >900</text>
<text transform="translate(313.8,1612.3) scale(1.055,1)" font-size="68.5" text-anchor="end" fill="#000" >1200</text>
<text transform="translate(313.8,1457.0) scale(1.055,1)" font-size="68.5" text-anchor="end" fill="#000" >1500</text>
<text transform="translate(595.2,2282.5) scale(1.028,1)" font-size="68.5" text-anchor="middle" fill="#000" >0.2</text>
<text transform="translate(862.5,2282.5) scale(1.028,1)" font-size="68.5" text-anchor="middle" fill="#000" >0.4</text>
<text transform="translate(1126.0,2282.5) scale(1.028,1)" font-size="68.5" text-anchor="middle" fill="#000" >0.6</text>
<text transform="translate(1392.3,2282.5) scale(1.028,1)" font-size="68.5" text-anchor="middle" fill="#000" >0.8</text>
<text transform="translate(1651.5,2282.5) scale(1.028,1)" font-size="68.5" text-anchor="middle" fill="#000" >1.0</text>
<text transform="translate(638.0,2384.7)" font-size="95.6" text-anchor="start" fill="#000" >Frequency (MHz)</text>
<text transform="translate(135.5,2174.5) rotate(-90) scale(0.963,1)" font-size="101" text-anchor="start" fill="#000" >Dielectric constant</text>
<rect x="48" y="2281" width="179" height="144" fill="#000"/>
<text transform="translate(142.0,2378.5) scale(1.030,1)" font-size="112" text-anchor="middle" fill="#fff" >(b)</text>
<line x1="497.6" y1="1423.8" x2="590.9" y2="1423.8" stroke="#000000" stroke-width="6.8" stroke-linecap="butt"/>
<circle cx="543.8" cy="1422.3" r="10.5" fill="#000000"/>
<circle cx="539.6" cy="1418.6" r="3.5" fill="#fff" fill-opacity="0.5"/>
<text transform="translate(603.0,1435.3)" font-size="56.6" text-anchor="start" fill="#000" >1.0 V</text>
<line x1="497.6" y1="1494.6" x2="590.9" y2="1494.6" stroke="#FF0000" stroke-width="6.8" stroke-linecap="butt"/>
<circle cx="543.8" cy="1493.1" r="10.5" fill="#FF0000"/>
<circle cx="539.6" cy="1489.4" r="3.5" fill="#fff" fill-opacity="0.5"/>
<text transform="translate(603.0,1506.1)" font-size="56.6" text-anchor="start" fill="#000" >0.8 V</text>
<line x1="497.6" y1="1564.6" x2="590.9" y2="1564.6" stroke="#0000FF" stroke-width="6.8" stroke-linecap="butt"/>
<circle cx="543.8" cy="1563.1" r="10.5" fill="#0000FF"/>
<circle cx="539.6" cy="1559.4" r="3.5" fill="#fff" fill-opacity="0.5"/>
<text transform="translate(603.0,1576.1)" font-size="56.6" text-anchor="start" fill="#000" >0.6 V</text>
<line x1="497.6" y1="1634.6" x2="590.9" y2="1634.6" stroke="#008080" stroke-width="6.8" stroke-linecap="butt"/>
<circle cx="543.8" cy="1633.1" r="10.5" fill="#008080"/>
<circle cx="539.6" cy="1629.4" r="3.5" fill="#fff" fill-opacity="0.5"/>
<text transform="translate(603.0,1646.1)" font-size="56.6" text-anchor="start" fill="#000" >0.4 V</text>
<line x1="497.6" y1="1704.5" x2="590.9" y2="1704.5" stroke="#FF00FF" stroke-width="6.8" stroke-linecap="butt"/>
<circle cx="543.8" cy="1703.0" r="10.5" fill="#FF00FF"/>
<circle cx="539.6" cy="1699.3" r="3.5" fill="#fff" fill-opacity="0.5"/>
<text transform="translate(603.0,1716.0)" font-size="56.6" text-anchor="start" fill="#000" >0.2 V</text>
<rect x="972.7" y="1380.3" width="660.0999999999999" height="560.4000000000001" fill="#fff" stroke="#000" stroke-width="4.4"/>
<line x1="972.7" y1="1847.2" x2="984.2" y2="1847.2" stroke="#000" stroke-width="4.4" stroke-linecap="butt"/>
<line x1="972.7" y1="1722.2" x2="984.2" y2="1722.2" stroke="#000" stroke-width="4.4" stroke-linecap="butt"/>
<line x1="972.7" y1="1597.2" x2="984.2" y2="1597.2" stroke="#000" stroke-width="4.4" stroke-linecap="butt"/>
<line x1="972.7" y1="1472.2" x2="984.2" y2="1472.2" stroke="#000" stroke-width="4.4" stroke-linecap="butt"/>
<line x1="972.7" y1="1909.7" x2="979.9" y2="1909.7" stroke="#000" stroke-width="4.4" stroke-linecap="butt"/>
<line x1="972.7" y1="1784.7" x2="979.9" y2="1784.7" stroke="#000" stroke-width="4.4" stroke-linecap="butt"/>
<line x1="972.7" y1="1659.7" x2="979.9" y2="1659.7" stroke="#000" stroke-width="4.4" stroke-linecap="butt"/>
<line x1="972.7" y1="1534.7" x2="979.9" y2="1534.7" stroke="#000" stroke-width="4.4" stroke-linecap="butt"/>
<line x1="972.7" y1="1409.7" x2="979.9" y2="1409.7" stroke="#000" stroke-width="4.4" stroke-linecap="butt"/>
<line x1="1036.5" y1="1940.7" x2="1036.5" y2="1932.0" stroke="#000" stroke-width="4.0" stroke-linecap="butt"/>
<line x1="1169.0" y1="1940.7" x2="1169.0" y2="1932.0" stroke="#000" stroke-width="4.0" stroke-linecap="butt"/>
<line x1="1301.5" y1="1940.7" x2="1301.5" y2="1932.0" stroke="#000" stroke-width="4.0" stroke-linecap="butt"/>
<line x1="1433.9" y1="1940.7" x2="1433.9" y2="1932.0" stroke="#000" stroke-width="4.0" stroke-linecap="butt"/>
<line x1="1566.4" y1="1940.7" x2="1566.4" y2="1932.0" stroke="#000" stroke-width="4.0" stroke-linecap="butt"/>
<line x1="1102.7" y1="1940.7" x2="1102.7" y2="1935.0" stroke="#000" stroke-width="4.0" stroke-linecap="butt"/>
<line x1="1235.2" y1="1940.7" x2="1235.2" y2="1935.0" stroke="#000" stroke-width="4.0" stroke-linecap="butt"/>
<line x1="1367.7" y1="1940.7" x2="1367.7" y2="1935.0" stroke="#000" stroke-width="4.0" stroke-linecap="butt"/>
<line x1="1500.2" y1="1940.7" x2="1500.2" y2="1935.0" stroke="#000" stroke-width="4.0" stroke-linecap="butt"/>
<line x1="1051.2" y1="1449.0" x2="1154.2" y2="1570.4" stroke="#00E600" stroke-width="4.8" stroke-linecap="butt"/>
<line x1="1183.9" y1="1605.1" x2="1286.5" y2="1723.7" stroke="#00E600" stroke-width="4.8" stroke-linecap="butt"/>
<line x1="1318.8" y1="1755.7" x2="1416.6" y2="1838.7" stroke="#00E600" stroke-width="4.8" stroke-linecap="butt"/>
<line x1="1455.7" y1="1860.1" x2="1544.6" y2="1887.4" stroke="#00E600" stroke-width="4.8" stroke-linecap="butt"/>
<circle cx="1036.5" cy="1431.6" r="18.8" fill="#00F000"/>
<circle cx="1029.0" cy="1425.0" r="6.2" fill="#fff" fill-opacity="0.4"/>
<circle cx="1169.0" cy="1587.8" r="18.8" fill="#00F000"/>
<circle cx="1161.5" cy="1581.2" r="6.2" fill="#fff" fill-opacity="0.4"/>
<circle cx="1301.5" cy="1741.0" r="18.8" fill="#00F000"/>
<circle cx="1293.9" cy="1734.4" r="6.2" fill="#fff" fill-opacity="0.4"/>
<circle cx="1433.9" cy="1853.5" r="18.8" fill="#00F000"/>
<circle cx="1426.4" cy="1846.9" r="6.2" fill="#fff" fill-opacity="0.4"/>
<circle cx="1566.4" cy="1894.1" r="18.8" fill="#00F000"/>
<circle cx="1558.9" cy="1887.5" r="6.2" fill="#fff" fill-opacity="0.4"/>
<text transform="translate(959.7,1863.2) scale(1.100,1)" font-size="45" text-anchor="end" fill="#000" >1440</text>
<text transform="translate(959.7,1738.2) scale(1.100,1)" font-size="45" text-anchor="end" fill="#000" >1480</text>
<text transform="translate(959.7,1613.2) scale(1.100,1)" font-size="45" text-anchor="end" fill="#000" >1520</text>
<text transform="translate(959.7,1488.2) scale(1.100,1)" font-size="45" text-anchor="end" fill="#000" >1560</text>
<text transform="translate(1037.7,1990.8) scale(1.190,1)" font-size="44.5" text-anchor="middle" fill="#000" >0.2</text>
<text transform="translate(1170.2,1990.8) scale(1.190,1)" font-size="44.5" text-anchor="middle" fill="#000" >0.4</text>
<text transform="translate(1302.7,1990.8) scale(1.190,1)" font-size="44.5" text-anchor="middle" fill="#000" >0.6</text>
<text transform="translate(1435.1,1990.8) scale(1.190,1)" font-size="44.5" text-anchor="middle" fill="#000" >0.8</text>
<text transform="translate(1567.6,1990.8) scale(1.190,1)" font-size="44.5" text-anchor="middle" fill="#000" >1.0</text>
<text transform="translate(1414.8,1492.0) scale(0.985,1)" font-size="55" text-anchor="start" fill="#000" >1 kHz</text>
<text transform="translate(1205.9,2065.6) scale(1.050,1)" font-size="58.7" text-anchor="start" fill="#000" >Bias (V)</text>
<text transform="translate(823.7,1925.5) rotate(-90) scale(0.964,1)" font-size="65.7" text-anchor="start" fill="#000" >Dielectric constant</text>
</svg>
</body></html>
